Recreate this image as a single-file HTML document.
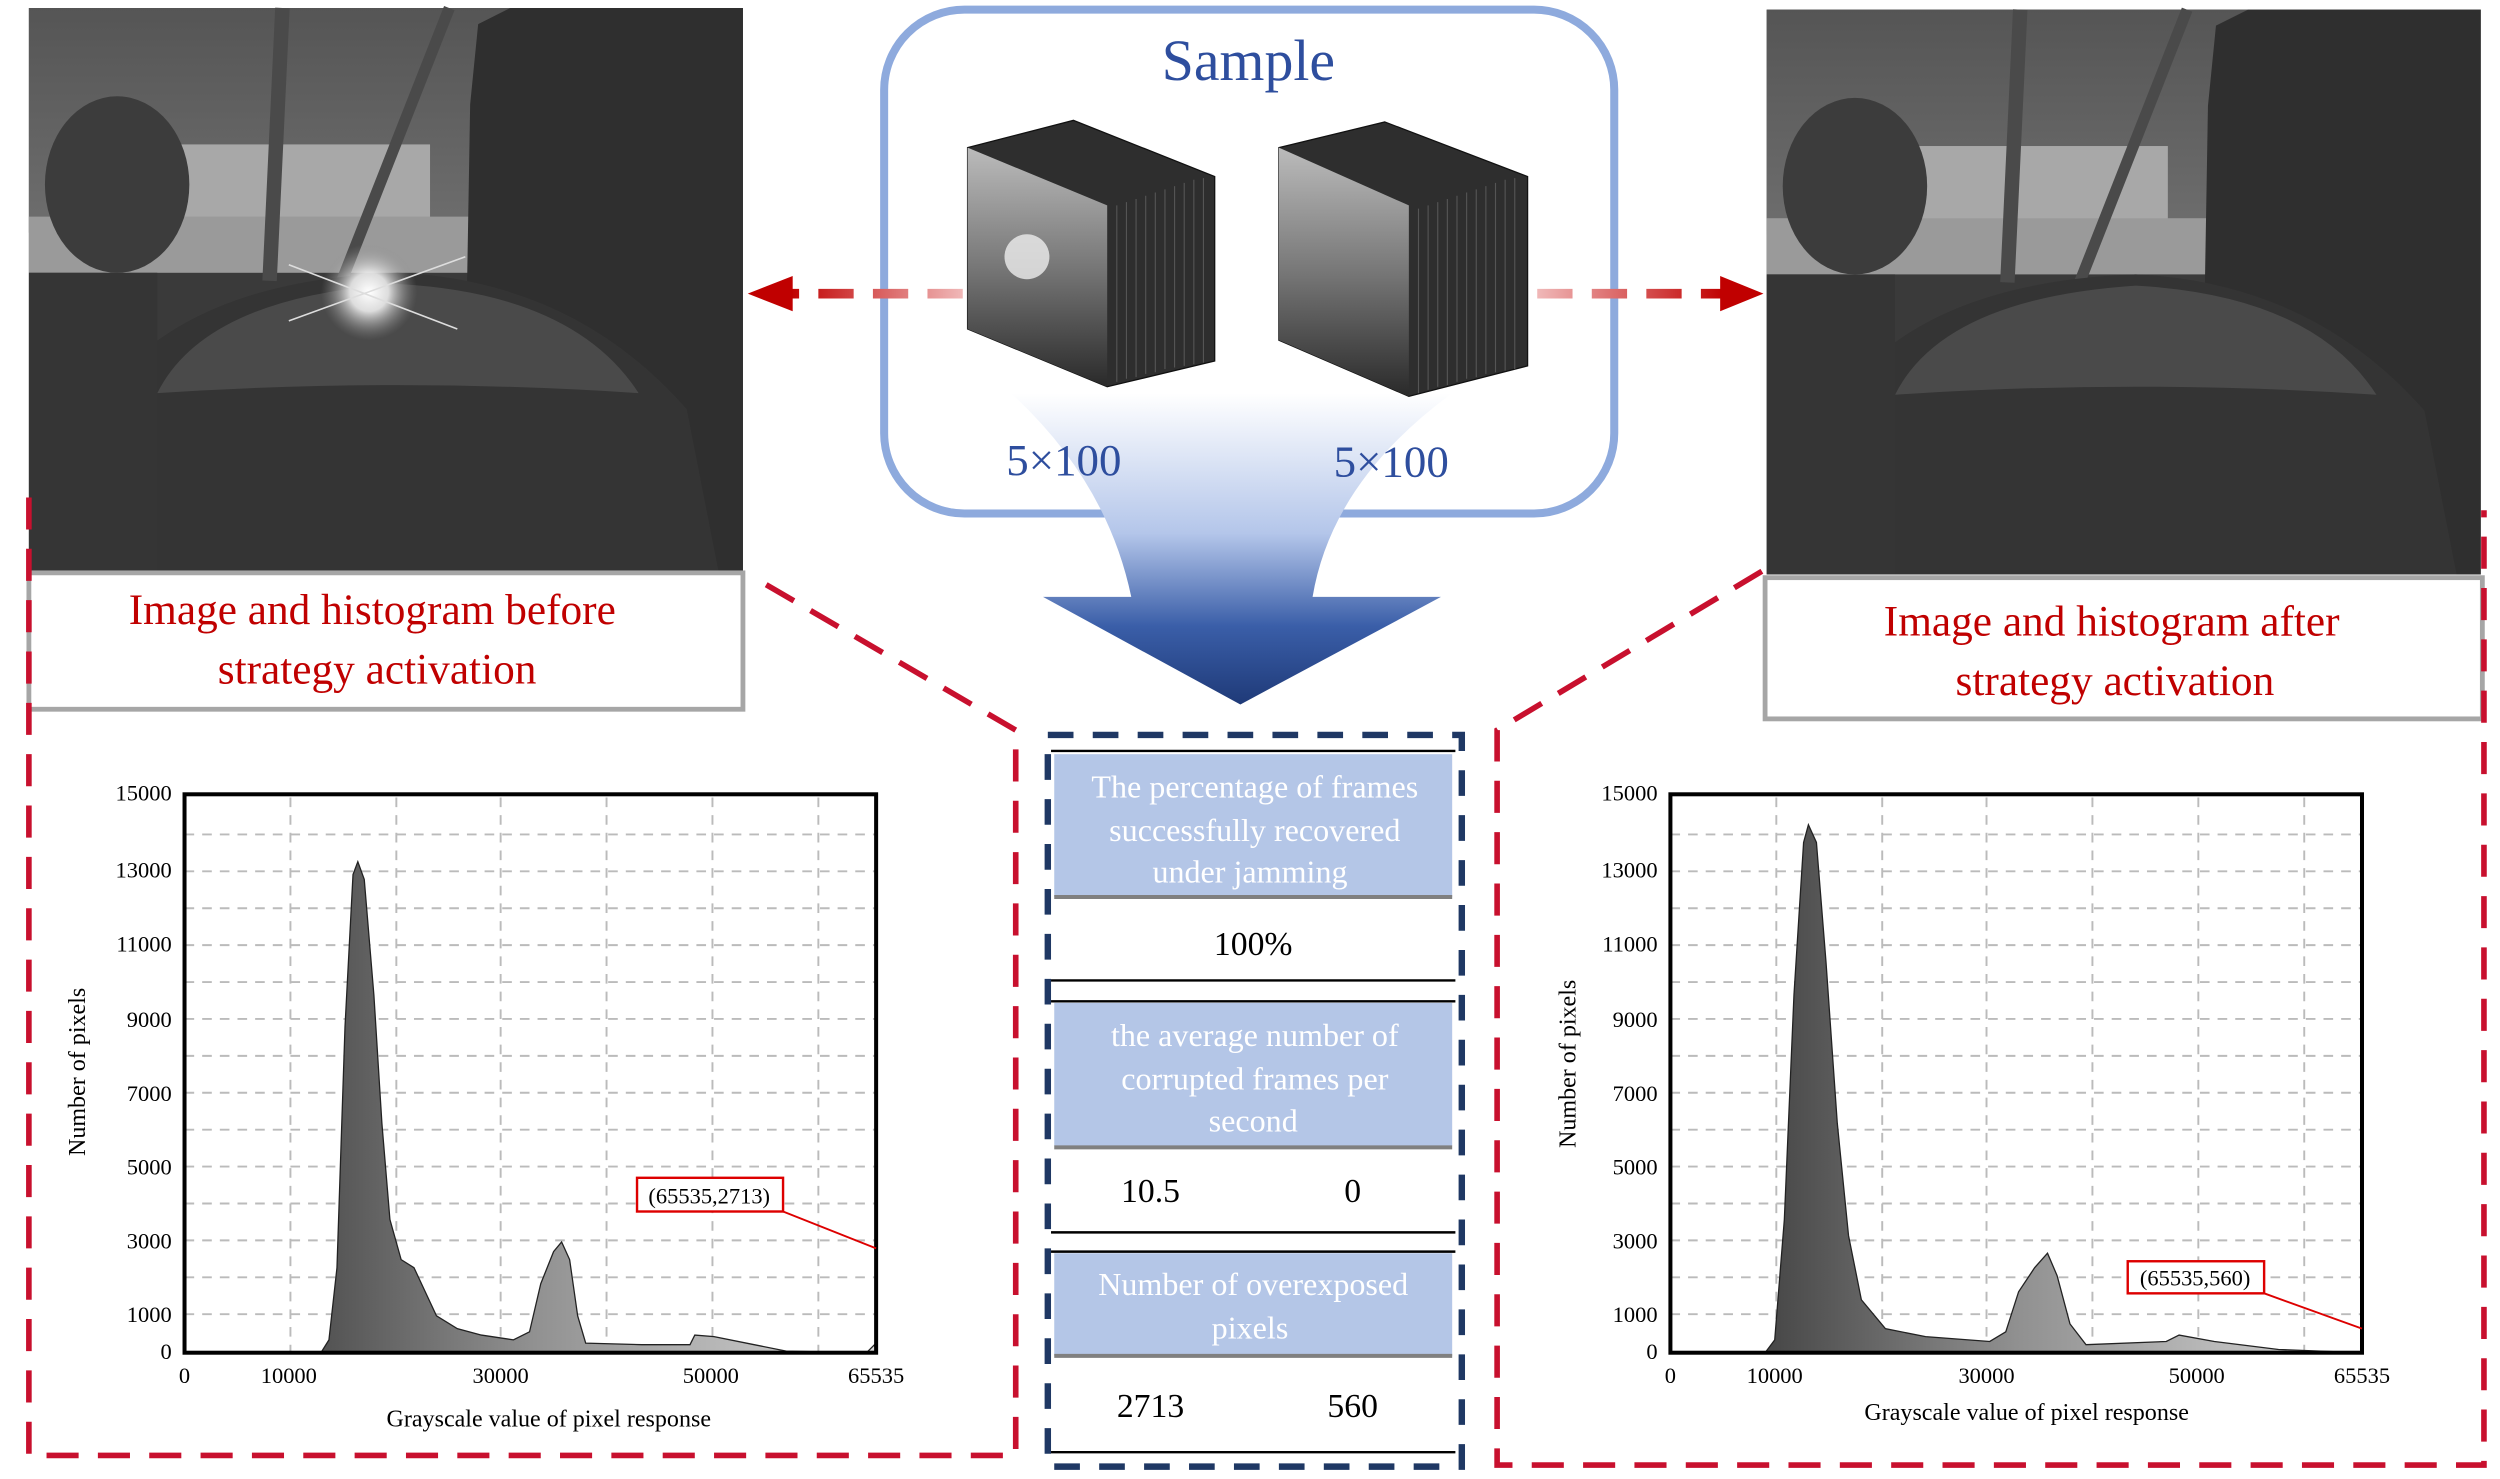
<!DOCTYPE html>
<html><head><meta charset="utf-8"><style>
html,body{margin:0;padding:0;background:#fff;}
svg{display:block;}
text{font-family:"Liberation Serif",serif;}
</style></head><body>
<svg width="2500" height="1479" viewBox="0 0 1558 921.7" preserveAspectRatio="none" xmlns="http://www.w3.org/2000/svg">
<defs>
<linearGradient id="sky" x1="0" y1="0" x2="0" y2="1"><stop offset="0" stop-color="#555"/><stop offset="1" stop-color="#6e6e6e"/></linearGradient>
<linearGradient id="funnel" x1="0" y1="0" x2="0" y2="1"><stop offset="0" stop-color="#ffffff"/><stop offset="0.45" stop-color="#b4c6ea"/><stop offset="0.75" stop-color="#3a5ea8"/><stop offset="1" stop-color="#1f3a78"/></linearGradient>
<linearGradient id="hist" x1="0" y1="0" x2="1" y2="0"><stop offset="0" stop-color="#2a2a2a"/><stop offset="0.5" stop-color="#909090"/><stop offset="1" stop-color="#d8d8d8"/></linearGradient>
<linearGradient id="face" x1="0" y1="0" x2="0" y2="1"><stop offset="0" stop-color="#bbb"/><stop offset="0.5" stop-color="#777"/><stop offset="1" stop-color="#2a2a2a"/></linearGradient>
<linearGradient id="redfadeL" gradientUnits="userSpaceOnUse" x1="492" y1="0" x2="600" y2="0"><stop offset="0" stop-color="#c00000"/><stop offset="1" stop-color="#f0b8b8"/></linearGradient>
<linearGradient id="redfadeR" gradientUnits="userSpaceOnUse" x1="958" y1="0" x2="1075" y2="0"><stop offset="0" stop-color="#f0b8b8"/><stop offset="1" stop-color="#c00000"/></linearGradient>
<radialGradient id="glare"><stop offset="0" stop-color="#fff"/><stop offset="0.4" stop-color="#eee" stop-opacity="0.9"/><stop offset="1" stop-color="#888" stop-opacity="0"/></radialGradient>
<g id="photo">
<rect x="0" y="0" width="445" height="352" fill="#3a3a3a"/>
<rect x="0" y="0" width="300" height="140" fill="url(#sky)"/>
<rect x="90" y="85" width="160" height="75" fill="#a8a8a8"/>
<rect x="0" y="130" width="290" height="35" fill="#9a9a9a"/>
<ellipse cx="55" cy="110" rx="45" ry="55" fill="#3c3c3c"/>
<ellipse cx="295" cy="125" rx="18" ry="35" fill="#4a4a4a"/>
<polygon points="280,10 300,0 445,0 445,352 270,352 275,60" fill="#2f2f2f"/>
<line x1="158" y1="0" x2="150" y2="170" stroke="#4a4a4a" stroke-width="9"/>
<line x1="262" y1="0" x2="195" y2="170" stroke="#4a4a4a" stroke-width="7"/>
<path d="M20 352 L40 250 Q90 170 230 165 Q340 170 410 250 L430 352 Z" fill="#343434"/>
<path d="M80 240 Q110 180 230 172 Q340 178 380 240 Q230 230 80 240 Z" fill="#4a4a4a"/>
<rect x="0" y="165" width="80" height="187" fill="#353535"/>
</g>
</defs>

<use href="#photo" x="18" y="5"/>
<circle cx="230" cy="182" r="30" fill="url(#glare)"/>
<line x1="180" y1="200" x2="290" y2="160" stroke="#ddd" stroke-width="1"/>
<line x1="180" y1="165" x2="285" y2="205" stroke="#ddd" stroke-width="1"/>
<use href="#photo" x="1101" y="6"/>

<rect x="18" y="357" width="445" height="85" fill="#fff" stroke="#a6a6a6" stroke-width="3"/>
<text x="232" y="389" font-size="27" fill="#c00000" text-anchor="middle">Image and histogram before</text>
<text x="235" y="426" font-size="27" fill="#c00000" text-anchor="middle">strategy activation</text>
<rect x="1100" y="360" width="447" height="88" fill="#fff" stroke="#a6a6a6" stroke-width="3"/>
<text x="1316" y="396" font-size="27" fill="#c00000" text-anchor="middle">Image and histogram after</text>
<text x="1318" y="433" font-size="27" fill="#c00000" text-anchor="middle">strategy activation</text>

<g fill="none" stroke="#c8102e" stroke-width="3.5" stroke-dasharray="20,12">
<path d="M18 310 L18 907 L633 907 L633 455 L470 360"/>
<path d="M1098 356 L933 455 L933 913 L1548 913 L1548 318"/>
</g>

<rect x="551" y="6" width="455" height="314" rx="50" fill="none" stroke="#8eaadd" stroke-width="5"/>
<text x="778" y="50" font-size="36" fill="#2e4e9e" text-anchor="middle">Sample</text>

<path d="M630 245 Q690 300 705 372 L650 372 L773 439 L898 372 L818 372 Q830 300 905 245 Z" fill="url(#funnel)"/>

<g stroke="#111" stroke-width="0.8">
<polygon points="669,75 757,110 757,225 690,241 603,205 603,92" fill="#2e2e2e"/>
<polygon points="863,76 952,110 952,228 878,247 797,212 797,92" fill="#2e2e2e"/>
</g>
<g stroke="#555" stroke-width="0.7">
<line x1="696" y1="128" x2="696" y2="238"/><line x1="702" y1="126" x2="702" y2="236"/><line x1="708" y1="124" x2="708" y2="235"/><line x1="714" y1="122" x2="714" y2="233"/><line x1="720" y1="120" x2="720" y2="232"/><line x1="726" y1="118" x2="726" y2="230"/><line x1="732" y1="116" x2="732" y2="229"/><line x1="738" y1="114" x2="738" y2="228"/><line x1="744" y1="112" x2="744" y2="227"/><line x1="750" y1="111" x2="750" y2="226"/>
<line x1="884" y1="130" x2="884" y2="245"/><line x1="890" y1="128" x2="890" y2="243"/><line x1="896" y1="126" x2="896" y2="241"/><line x1="902" y1="124" x2="902" y2="240"/><line x1="908" y1="122" x2="908" y2="238"/><line x1="914" y1="120" x2="914" y2="236"/><line x1="920" y1="118" x2="920" y2="235"/><line x1="926" y1="116" x2="926" y2="233"/><line x1="932" y1="114" x2="932" y2="232"/><line x1="938" y1="112" x2="938" y2="231"/><line x1="944" y1="111" x2="944" y2="230"/>
</g>
<polygon points="603,92 690,128 690,241 603,205" fill="url(#face)"/>
<circle cx="640" cy="160" r="14" fill="#eee" opacity="0.8"/>
<polygon points="797,92 878,128 878,247 797,212" fill="url(#face)"/>

<text x="663" y="296" font-size="28" fill="#2e4e9e" text-anchor="middle">5×100</text>
<text x="867" y="297" font-size="28" fill="#2e4e9e" text-anchor="middle">5×100</text>

<g stroke-width="6" stroke-dasharray="22,12" fill="none">
<line x1="600" y1="183" x2="492" y2="183" stroke="url(#redfadeL)"/>
<line x1="958" y1="183" x2="1075" y2="183" stroke="url(#redfadeR)"/>
</g>
<polygon points="466,183 494,172 494,194" fill="#c00000"/>
<polygon points="1099,183 1072,172 1072,194" fill="#c00000"/>

<rect x="653" y="458" width="258" height="456" fill="none" stroke="#1f3864" stroke-width="4" stroke-dasharray="16,12"/>
<rect x="657" y="470" width="248" height="89" fill="#b4c6e7"/>
<line x1="657" y1="559" x2="905" y2="559" stroke="#808080" stroke-width="2.5"/>
<line x1="655" y1="468" x2="907" y2="468" stroke="#000" stroke-width="1.5"/>
<text font-size="20" fill="#fff" text-anchor="middle"><tspan x="782" y="497">The percentage of frames</tspan><tspan x="782" y="524">successfully recovered</tspan><tspan x="779" y="550">under jamming</tspan></text>
<text x="781" y="595" font-size="21" fill="#000" text-anchor="middle">100%</text>
<line x1="655" y1="611" x2="907" y2="611" stroke="#000" stroke-width="1.5"/>
<line x1="655" y1="624" x2="907" y2="624" stroke="#000" stroke-width="1.5"/>
<rect x="657" y="625" width="248" height="89" fill="#b4c6e7"/>
<line x1="657" y1="715" x2="905" y2="715" stroke="#808080" stroke-width="2.5"/>
<text font-size="20" fill="#fff" text-anchor="middle"><tspan x="782" y="652">the average number of</tspan><tspan x="782" y="679">corrupted frames per</tspan><tspan x="781" y="705">second</tspan></text>
<text x="717" y="749" font-size="21" fill="#000" text-anchor="middle">10.5</text>
<text x="843" y="749" font-size="21" fill="#000" text-anchor="middle">0</text>
<line x1="655" y1="768" x2="907" y2="768" stroke="#000" stroke-width="1.5"/>
<line x1="655" y1="780" x2="907" y2="780" stroke="#000" stroke-width="1.5"/>
<rect x="657" y="781" width="248" height="64" fill="#b4c6e7"/>
<line x1="657" y1="845" x2="905" y2="845" stroke="#808080" stroke-width="2.5"/>
<text font-size="20" fill="#fff" text-anchor="middle"><tspan x="781" y="807">Number of overexposed</tspan><tspan x="779" y="834">pixels</tspan></text>
<text x="717" y="883" font-size="21" fill="#000" text-anchor="middle">2713</text>
<text x="843" y="883" font-size="21" fill="#000" text-anchor="middle">560</text>
<line x1="655" y1="905" x2="907" y2="905" stroke="#000" stroke-width="1.5"/>

<g>
<g stroke="#bbb" stroke-width="1.2" stroke-dasharray="6,5">
<line x1="181" y1="497" x2="181" y2="843"/><line x1="247" y1="497" x2="247" y2="843"/><line x1="312" y1="497" x2="312" y2="843"/><line x1="378" y1="497" x2="378" y2="843"/><line x1="444" y1="497" x2="444" y2="843"/><line x1="510" y1="497" x2="510" y2="843"/>
<line x1="115" y1="819" x2="546" y2="819"/><line x1="115" y1="796" x2="546" y2="796"/><line x1="115" y1="773" x2="546" y2="773"/><line x1="115" y1="750" x2="546" y2="750"/><line x1="115" y1="727" x2="546" y2="727"/><line x1="115" y1="704" x2="546" y2="704"/><line x1="115" y1="681" x2="546" y2="681"/><line x1="115" y1="658" x2="546" y2="658"/><line x1="115" y1="635" x2="546" y2="635"/><line x1="115" y1="612" x2="546" y2="612"/><line x1="115" y1="589" x2="546" y2="589"/><line x1="115" y1="566" x2="546" y2="566"/><line x1="115" y1="543" x2="546" y2="543"/><line x1="115" y1="520" x2="546" y2="520"/>
</g>
<path d="M115 843 L200 843 L205 835 L210 790 L215 640 L220 545 L223 537 L227 548 L233 620 L238 700 L243 760 L250 785 L258 790 L265 805 L272 820 L285 828 L300 832 L320 835 L330 830 L337 800 L345 780 L350 774 L355 785 L360 820 L365 837 L400 838 L430 838 L433 832 L445 833 L470 838 L490 842 L540 843 L545 838 L546 843 Z" fill="url(#hist)" stroke="#222" stroke-width="0.8"/>
<rect x="115" y="495" width="431" height="348" fill="none" stroke="#000" stroke-width="2.5"/>
<g font-size="14" fill="#000" text-anchor="end">
<text x="107" y="499">15000</text><text x="107" y="547">13000</text><text x="107" y="593">11000</text><text x="107" y="640">9000</text><text x="107" y="686">7000</text><text x="107" y="732">5000</text><text x="107" y="778">3000</text><text x="107" y="824">1000</text><text x="107" y="847">0</text>
</g>
<g font-size="14" fill="#000" text-anchor="middle">
<text x="115" y="862">0</text><text x="180" y="862">10000</text><text x="312" y="862">30000</text><text x="443" y="862">50000</text><text x="546" y="862">65535</text>
</g>
<text x="342" y="889" font-size="15" text-anchor="middle">Grayscale value of pixel response</text>
<text x="0" y="0" font-size="15" text-anchor="middle" transform="translate(53,668) rotate(-90)">Number of pixels</text>
<rect x="397" y="734" width="91" height="21" fill="#fff" stroke="#d00" stroke-width="1.5"/>
<text x="442" y="750" font-size="14" text-anchor="middle">(65535,2713)</text>
<line x1="488" y1="755" x2="546" y2="778" stroke="#d00" stroke-width="1.2"/>
</g>

<g>
<g stroke="#bbb" stroke-width="1.2" stroke-dasharray="6,5">
<line x1="1107" y1="497" x2="1107" y2="843"/><line x1="1173" y1="497" x2="1173" y2="843"/><line x1="1238" y1="497" x2="1238" y2="843"/><line x1="1304" y1="497" x2="1304" y2="843"/><line x1="1370" y1="497" x2="1370" y2="843"/><line x1="1436" y1="497" x2="1436" y2="843"/>
<line x1="1041" y1="819" x2="1472" y2="819"/><line x1="1041" y1="796" x2="1472" y2="796"/><line x1="1041" y1="773" x2="1472" y2="773"/><line x1="1041" y1="750" x2="1472" y2="750"/><line x1="1041" y1="727" x2="1472" y2="727"/><line x1="1041" y1="704" x2="1472" y2="704"/><line x1="1041" y1="681" x2="1472" y2="681"/><line x1="1041" y1="658" x2="1472" y2="658"/><line x1="1041" y1="635" x2="1472" y2="635"/><line x1="1041" y1="612" x2="1472" y2="612"/><line x1="1041" y1="589" x2="1472" y2="589"/><line x1="1041" y1="566" x2="1472" y2="566"/><line x1="1041" y1="543" x2="1472" y2="543"/><line x1="1041" y1="520" x2="1472" y2="520"/>
</g>
<path d="M1041 843 L1100 843 L1106 835 L1112 760 L1118 620 L1124 525 L1127 514 L1132 525 L1138 600 L1145 700 L1152 770 L1160 810 L1175 828 L1200 833 L1240 836 L1250 830 L1258 805 L1268 790 L1276 781 L1282 795 L1290 825 L1300 838 L1350 836 L1358 832 L1380 836 L1420 841 L1472 843 Z" fill="url(#hist)" stroke="#222" stroke-width="0.8"/>
<rect x="1041" y="495" width="431" height="348" fill="none" stroke="#000" stroke-width="2.5"/>
<g font-size="14" fill="#000" text-anchor="end">
<text x="1033" y="499">15000</text><text x="1033" y="547">13000</text><text x="1033" y="593">11000</text><text x="1033" y="640">9000</text><text x="1033" y="686">7000</text><text x="1033" y="732">5000</text><text x="1033" y="778">3000</text><text x="1033" y="824">1000</text><text x="1033" y="847">0</text>
</g>
<g font-size="14" fill="#000" text-anchor="middle">
<text x="1041" y="862">0</text><text x="1106" y="862">10000</text><text x="1238" y="862">30000</text><text x="1369" y="862">50000</text><text x="1472" y="862">65535</text>
</g>
<text x="1263" y="885" font-size="15" text-anchor="middle">Grayscale value of pixel response</text>
<text x="0" y="0" font-size="15" text-anchor="middle" transform="translate(982,663) rotate(-90)">Number of pixels</text>
<rect x="1326" y="786" width="85" height="20" fill="#fff" stroke="#d00" stroke-width="1.5"/>
<text x="1368" y="801" font-size="14" text-anchor="middle">(65535,560)</text>
<line x1="1411" y1="806" x2="1472" y2="828" stroke="#d00" stroke-width="1.2"/>
</g>
</svg>
</body></html>
